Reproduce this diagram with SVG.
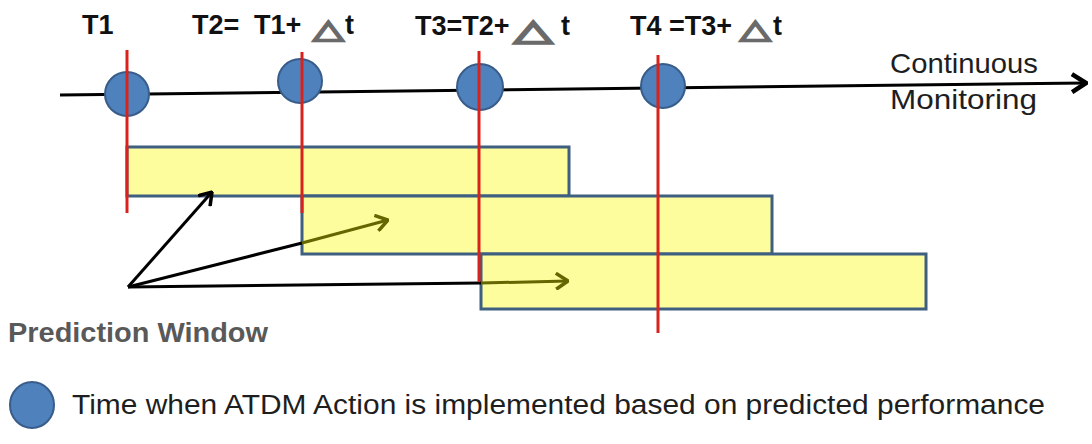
<svg xmlns="http://www.w3.org/2000/svg" width="1092" height="444" viewBox="0 0 1092 444">
<style>
.lbl{font-family:"Liberation Sans",Arial,sans-serif;font-weight:bold;font-size:27px;fill:#111}
.tri{font-family:"DejaVu Sans",sans-serif;font-size:40px;fill:#6a6a6a;stroke:#6a6a6a;stroke-width:3}
.txt{font-family:"Liberation Sans",Arial,sans-serif;fill:#1e1e1e}
.dot{fill:#4f81bd;stroke:#385d8a;stroke-width:2}
.win{fill:#fdfd9e;stroke:#3f5f80;stroke-width:3}
.red{stroke:#d8221c;stroke-width:3}
.blk{stroke:#000;stroke-width:3;fill:none}
.olv{stroke:#666600;stroke-width:3;fill:none}
</style>
<defs>
<marker id="hb" viewBox="0 0 14 18" refX="13" refY="9" markerWidth="14" markerHeight="18" markerUnits="userSpaceOnUse" orient="auto">
<path d="M1,1 L13,9 L1,17" fill="none" stroke="#000" stroke-width="3.5"/>
</marker>
<marker id="ho" viewBox="0 0 14 18" refX="13" refY="9" markerWidth="14" markerHeight="18" markerUnits="userSpaceOnUse" orient="auto">
<path d="M1,1 L13,9 L1,17" fill="none" stroke="#666600" stroke-width="3.5"/>
</marker>
<marker id="hm" viewBox="0 0 18 22" refX="16" refY="11" markerWidth="18" markerHeight="22" markerUnits="userSpaceOnUse" orient="auto">
<path d="M2,2 L16,11 L2,20" fill="none" stroke="#000" stroke-width="4.5"/>
</marker>
</defs>

<g id="labels">
<text class="lbl" x="82" y="34">T1</text>
<text class="lbl" y="34"><tspan x="192">T2=</tspan><tspan x="254">T1+</tspan><tspan x="345">t</tspan></text>
<text class="tri" transform="translate(313,38) scale(1.0,0.65)">△</text>
<text class="lbl" y="35"><tspan x="415">T3=T2+</tspan><tspan x="561">t</tspan></text>
<text class="tri" transform="translate(514,40) scale(1.25,0.72)">△</text>
<text class="lbl" y="35"><tspan x="630">T4 =T3+</tspan><tspan x="773">t</tspan></text>
<text class="tri" transform="translate(740,38) scale(1.0,0.65)">△</text>
</g>

<g id="connectors">
<line class="blk" x1="60" y1="95" x2="1086" y2="83" stroke-width="4.5" marker-end="url(#hm)"/>
</g>

<g id="windows">
<rect id="window1" class="win" x="127" y="147" width="442" height="49"/>
<rect id="window2" class="win" x="302" y="196" width="470" height="58"/>
<rect id="window3" class="win" x="481" y="254" width="445" height="55"/>
</g>

<g id="arrows">
<line class="blk" x1="128" y1="287" x2="212" y2="192" marker-end="url(#hb)"/>
<line class="blk" x1="128" y1="287" x2="302" y2="243"/>
<line class="olv" x1="302" y1="243" x2="388" y2="220" marker-end="url(#ho)"/>
<line class="blk" x1="128" y1="287" x2="481" y2="283"/>
<line class="olv" x1="481" y1="283" x2="568" y2="281" marker-end="url(#ho)"/>
</g>

<g id="timepoints">
<g id="t1"><circle class="dot" cx="127" cy="94" r="22"/><line class="red" x1="127" y1="50" x2="127" y2="213"/></g>
<g id="t2"><circle class="dot" cx="300" cy="81" r="22"/><line class="red" x1="302" y1="52" x2="302" y2="213"/></g>
<g id="t3"><circle class="dot" cx="480" cy="87" r="23"/><line class="red" x1="479" y1="51" x2="479" y2="282"/></g>
<g id="t4"><circle class="dot" cx="663" cy="86" r="22"/><line class="red" x1="658" y1="55" x2="658" y2="333"/></g>
</g>

<g id="monitoring">
<text class="txt" x="890" y="73" font-size="28" textLength="148" lengthAdjust="spacingAndGlyphs">Continuous</text>
<text class="txt" x="890" y="109" font-size="28" textLength="147" lengthAdjust="spacingAndGlyphs">Monitoring</text>
</g>

<g id="prediction-window">
<text x="8" y="342" font-family="Liberation Sans, Arial, sans-serif" font-weight="bold" font-size="27" fill="#595959" textLength="260" lengthAdjust="spacingAndGlyphs">Prediction Window</text>
</g>

<g id="legend">
<ellipse class="dot" cx="32" cy="405" rx="22" ry="23"/>
<text class="txt" x="72" y="414" font-size="27" textLength="973" lengthAdjust="spacingAndGlyphs">Time when ATDM Action is implemented based on predicted performance</text>
</g>
</svg>
